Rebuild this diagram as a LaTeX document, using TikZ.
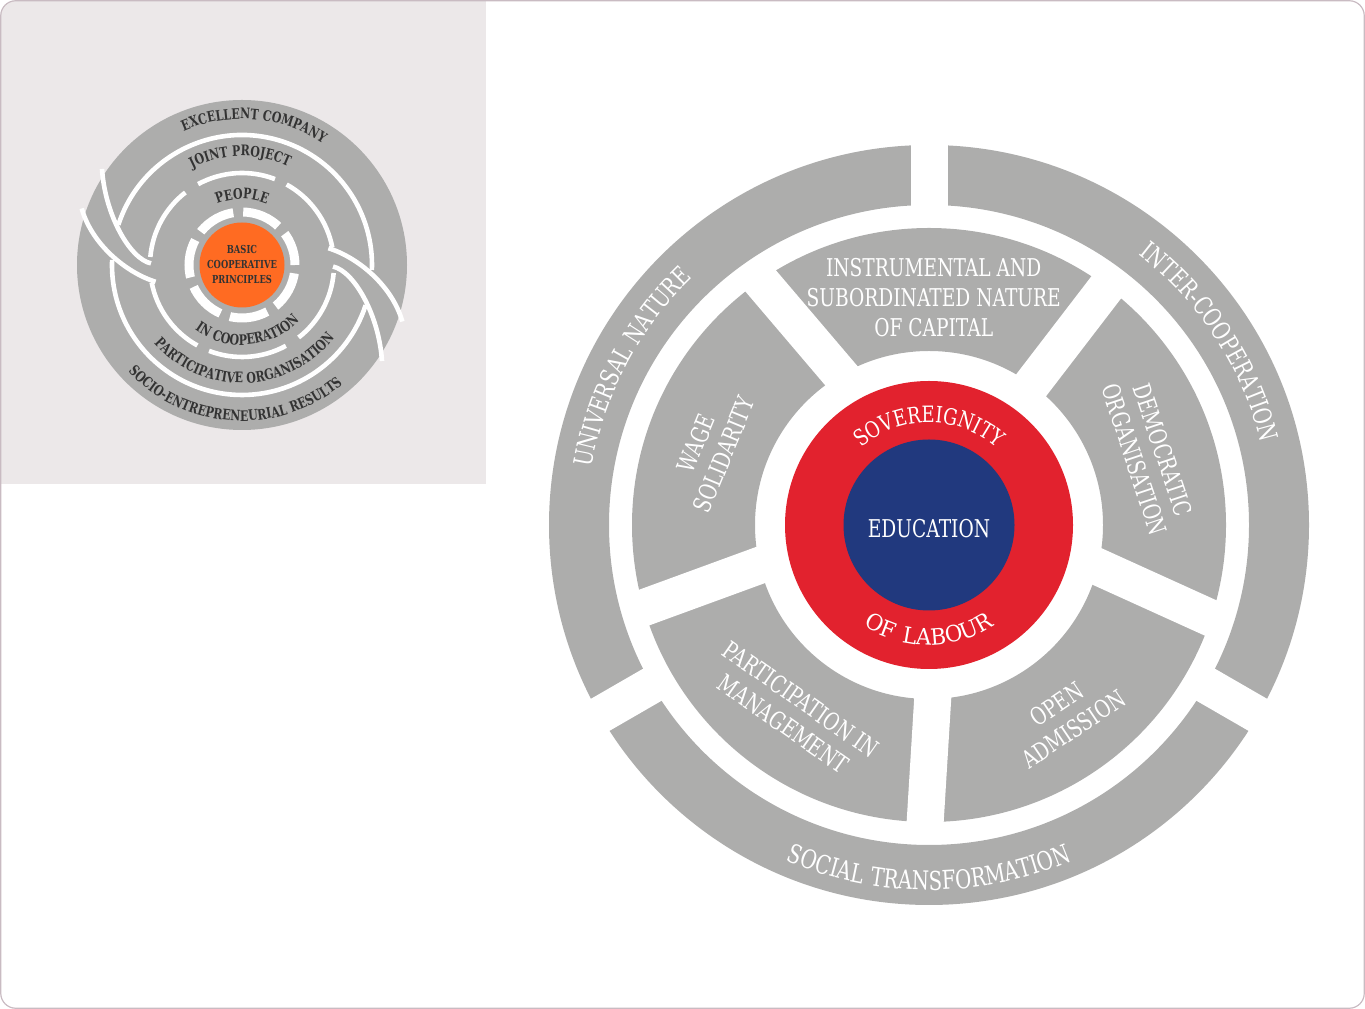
\documentclass[tikz,border=0pt]{standalone}
\usepackage{fontspec}
\setmainfont{DejaVu Serif}[FakeStretch=0.76]
\newfontfamily\crownfam{DejaVu Serif}[FakeStretch=0.8, LetterSpace=5]
\newfontfamily\basefam{DejaVu Serif}[FakeStretch=0.95, LetterSpace=12]
\newfontfamily\lowfam{DejaVu Serif}[FakeStretch=0.76, LetterSpace=4]
\usetikzlibrary{decorations.text,calc}

\definecolor{segGray}{HTML}{ADADAC}
\definecolor{labRed}{HTML}{E2222E}
\definecolor{eduBlue}{HTML}{21397E}
\definecolor{coreOrange}{HTML}{FF6B22}
\definecolor{panelGray}{HTML}{ECE8E9}
\definecolor{frameGray}{HTML}{C9BBC2}
\definecolor{inkGray}{HTML}{333333}

\newcommand{\segfont}{\fontsize{24.5}{30}\selectfont}
\newcommand{\ringfont}{\fontsize{25.5}{30}\selectfont\color{white}}
\newcommand{\lowfont}{\lowfam\fontsize{26}{30}\selectfont\color{white}}
\newcommand{\crownfont}{\crownfam\fontsize{22.5}{26}\selectfont\color{white}}
\newcommand{\basefont}{\basefam\fontsize{22.5}{26}\selectfont\color{white}}
\newcommand{\knotfont}{\fontsize{14.5}{15}\selectfont\bfseries\color{inkGray}}

\tikzset{
  segtext/.style={text=white, font=\segfont, align=center, inner sep=0pt},
  arctext/.style={decorate, decoration={text along path, text align=center, text={#1}}},
  gapline/.style={white, line width=37pt},
  knotline/.style={white, line width=4.6pt},
}

\begin{document}
\begin{tikzpicture}[x=1pt, y=1pt]

\useasboundingbox (0,0) rectangle (1365,1009);

% frame and small panel
\begin{scope}
  \clip[rounded corners=15pt] (0.75,0.75) rectangle (1364.25,1008.25);
  \fill[panelGray] (0,525) rectangle (486,1009);
\end{scope}
\draw[frameGray, line width=1.2pt, rounded corners=15pt] (0.75,0.75) rectangle (1364.25,1008.25);

%% small knot diagram
\coordinate (S) at (242,744);
\fill[segGray] (S) circle[radius=165];
% ring borders
\draw[knotline] ([shift={(162:130)}]S) arc[start angle=162, end angle=-2.2, radius=130];
\draw[knotline] ([shift={(177.8:130)}]S) arc[start angle=177.8, end angle=342, radius=130];
\foreach \a/\b in {11/61, 69/118.5, 128/175, 191/241, 249/298.5, 308/355}
  \draw[knotline] ([shift={(\a:92)}]S) arc[start angle=\a, end angle=\b, radius=92];
% the two crossing bands
\draw[knotline] ($(S)+(86.4,16.8)$) .. controls ($(S)+(115,8)$) and ($(S)+(150,-20)$) .. ($(S)+(160.3,-56.5)$);
\draw[knotline] ($(S)+(91,-1.6)$) .. controls ($(S)+(112,-6)$) and ($(S)+(137,-50)$) .. ($(S)+(140,-96)$);
\draw[knotline] ($(S)+(-86.4,-16.8)$) .. controls ($(S)+(-115,-8)$) and ($(S)+(-150,20)$) .. ($(S)+(-160.3,56.5)$);
\draw[knotline] ($(S)+(-91,1.6)$) .. controls ($(S)+(-112,6)$) and ($(S)+(-137,50)$) .. ($(S)+(-140,96)$);
% inner broken ring
\draw[white, line width=9pt, dash pattern=on 38.5pt off 10pt, dash phase=5pt] (S) circle[radius=53];
\fill[coreOrange] (S) circle[radius=42.5];
\node[inner sep=0pt, align=center, font=\fontsize{11}{15}\selectfont\bfseries, text=inkGray] (core) at (242,744.8) {BASIC\\COOPERATIVE\\PRINCIPLES};

\path[arctext={|\knotfont|EXCELLENT COMPANY}] ([shift={(160:146)}]S) arc[start angle=160, end angle=10, radius=146];
\path[arctext={|\knotfont|JOINT PROJECT}] ([shift={(171:109)}]S) arc[start angle=171, end angle=11, radius=109];
\path[arctext={|\knotfont|PEOPLE}] ([shift={(160:66)}]S) arc[start angle=160, end angle=20, radius=66];
\path[arctext={|\knotfont|IN COOPERATION}] ([shift={(200:80)}]S) arc[start angle=200, end angle=350, radius=80];
\path[arctext={|\knotfont|PARTICIPATIVE ORGANISATION}] ([shift={(190:118)}]S) arc[start angle=190, end angle=353.4, radius=118];
\path[arctext={|\knotfont|SOCIO-ENTREPRENEURIAL RESULTS}] ([shift={(180:156)}]S) arc[start angle=180, end angle=353.4, radius=156];

%% main wheel
\coordinate (C) at (929,484);
\coordinate (hub) at (945,511.5);

% middle ring with five spokes
\fill[segGray, even odd rule] (C) circle[radius=297] (C) circle[radius=174];
\foreach \a in {52.5,130.4,200.1,266.5,335.6}
  \draw[gapline] (hub) -- ++(\a:330);

% outer ring with three cuts
\fill[segGray, even odd rule] (C) circle[radius=380] (C) circle[radius=320];
\foreach \a in {90,210,330}
  \draw[gapline] ([shift={(\a:306)}]C) -- ([shift={(\a:395)}]C);

% core
\fill[labRed] (C) circle[radius=144];
\fill[eduBlue] (C) circle[radius=85.5];
\node[segtext] (edu) at (929,480.2) {EDUCATION};
\path[arctext={|\crownfont|SOVEREIGNITY}] ([shift={(170:102.5)}]C) arc[start angle=170, end angle=10, radius=102.5];
\path[arctext={|\basefont|OF LABOUR}] ([shift={(190:120)}]C) arc[start angle=190, end angle=350, radius=120];

% middle ring labels
\node[segtext] (capital) at (933.7,711.3) {INSTRUMENTAL AND\\SUBORDINATED NATURE\\OF CAPITAL};
\node[segtext, rotate=67.6] (wage) at (710,560) {WAGE\\SOLIDARITY};
\node[segtext, rotate=-71.5] (democ) at (1148.8,554.4) {DEMOCRATIC\\ORGANISATION};
\node[segtext, rotate=34] (admis) at (1065,292.3) {OPEN\\ADMISSION};
\node[segtext, rotate=-35] (partic) at (792,297.3) {PARTICIPATION IN\\MANAGEMENT};

% outer ring labels
\path[arctext={|\ringfont|UNIVERSAL NATURE}] ([shift={(200:342)}]C) arc[start angle=200, end angle=104, radius=342];
\path[arctext={|\ringfont|INTER-COOPERATION}] ([shift={(80:342)}]C) arc[start angle=80, end angle=-14, radius=342];
\path[arctext={|\lowfont|SOCIAL TRANSFORMATION}] ([shift={(220:365)}]C) arc[start angle=220, end angle=320, radius=365];

\end{tikzpicture}
\end{document}
